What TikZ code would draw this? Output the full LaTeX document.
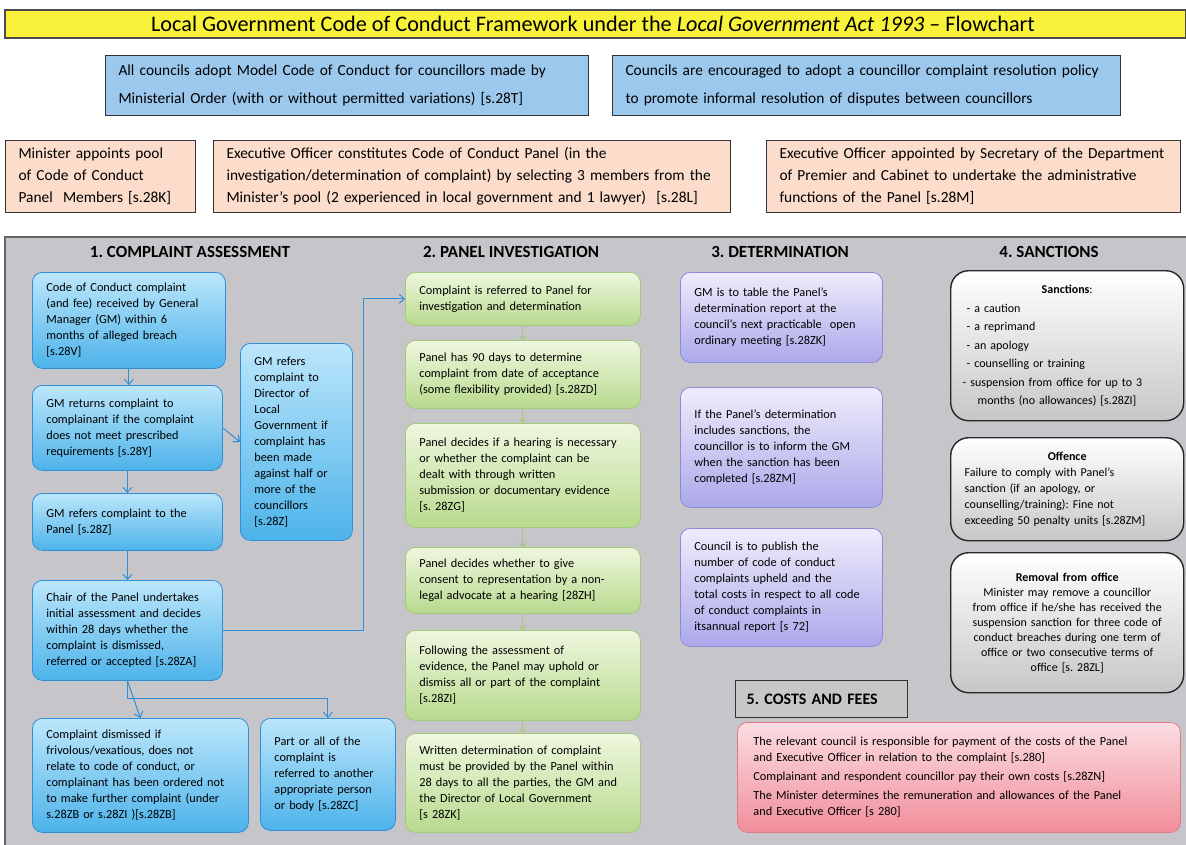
\documentclass[tikz,border=0pt]{standalone}
\usepackage{fontspec}
\setmainfont{Carlito}
\usetikzlibrary{arrows.meta}
\frenchspacing

\definecolor{bannerY}{HTML}{F8F23A}
\definecolor{topBlue}{HTML}{9CC8EE}
\definecolor{topPeach}{HTML}{FCDCCB}
\definecolor{panelGray}{HTML}{C6C6CA}
\definecolor{blueTop}{HTML}{BCE6FB}
\definecolor{blueBot}{HTML}{4DB3EA}
\definecolor{blueLine}{HTML}{2F8ED6}
\definecolor{greenTop}{HTML}{EEF7DE}
\definecolor{greenBot}{HTML}{B8DA8E}
\definecolor{greenLine}{HTML}{A3C97A}
\definecolor{purpTop}{HTML}{EEECFB}
\definecolor{purpBot}{HTML}{ACA8EB}
\definecolor{purpLine}{HTML}{8D89D6}
\definecolor{pinkTop}{HTML}{FCDDE2}
\definecolor{pinkBot}{HTML}{F08E9A}
\definecolor{pinkLine}{HTML}{E27A88}

\begin{document}
\begin{tikzpicture}[x=1pt,y=-1pt,
    topbox/.style={draw=black!80, line width=1pt, anchor=north west, align=left,
      inner xsep=13pt, inner ysep=0pt},
    colbox/.style={rounded corners=10pt, line width=0.8pt, anchor=north west, align=left,
      inner xsep=14pt, inner ysep=0pt, font=\fontsize{12.3}{16}\selectfont},
    assessbox/.style={colbox, draw=blueLine, top color=blueTop, bottom color=blueBot},
    panelbox/.style={colbox, draw=greenLine, top color=greenTop, bottom color=greenBot},
    detbox/.style={colbox, draw=purpLine, top color=purpTop, bottom color=purpBot},
    sanctbox/.style={colbox, rounded corners=18pt, draw=black!85, line width=1.4pt,
      top color=white, bottom color=black!22, font=\fontsize{12}{15}\selectfont},
    heading/.style={font=\fontsize{17}{20}\selectfont\bfseries},
    flow/.style={-{Straight Barb[length=5pt,width=9pt]}, blueLine, line width=1pt},
    gflow/.style={-{Straight Barb[length=3pt,width=6pt]}, greenLine, line width=1pt}]
  \useasboundingbox (0,0) rectangle (1186,845);

  % title banner
  \draw[fill=bannerY, draw=black!70, line width=1.2pt] (5,10) rectangle (1186,38);
  \node[font=\fontsize{22.2}{26}\selectfont] (title) at (593,24)
    {Local Government Code of Conduct Framework under the \textit{Local Government Act 1993} -- Flowchart};

  % framework boxes
  \node[topbox, fill=topBlue, minimum width=483pt, minimum height=60pt, text width=457pt,
    font=\fontsize{15.4}{28}\selectfont] (model) at (105,55)
    {All councils adopt Model Code of Conduct for councillors made by\\
     Ministerial Order (with or without permitted variations) [s.28T]};
  \node[topbox, fill=topBlue, minimum width=508pt, minimum height=60pt, text width=482pt,
    font=\fontsize{15.4}{28}\selectfont] (policy) at (612,55)
    {Councils are encouraged to adopt a councillor complaint resolution policy\\
     to promote informal resolution of disputes between councillors};

  \node[topbox, fill=topPeach, minimum width=190pt, minimum height=72pt, text width=164pt,
    font=\fontsize{15.4}{22}\selectfont] (pool) at (5,140)
    {Minister appoints pool\\ of Code of Conduct\\ Panel~ Members [s.28K]};
  \node[topbox, fill=topPeach, minimum width=517pt, minimum height=72pt, text width=491pt,
    font=\fontsize{15.4}{22}\selectfont] (constitute) at (213,140)
    {Executive Officer constitutes Code of Conduct Panel (in the\\
     investigation/determination of complaint) by selecting 3 members from the\\
     Minister’s pool (2 experienced in local government and 1 lawyer)~ [s.28L]};
  \node[topbox, fill=topPeach, minimum width=414pt, minimum height=72pt, text width=388pt,
    font=\fontsize{15.4}{22}\selectfont] (execofficer) at (766,140)
    {Executive Officer appointed by Secretary of the Department\\
     of Premier and Cabinet to undertake the administrative\\
     functions of the Panel [s.28M]};

  % grey panel behind the flowchart
  \fill[panelGray] (5,237) rectangle (1186,845);
  \draw[black!60, line width=1.2pt] (5,845) -- (5,237) -- (1186,237);

  \node[heading] (h1) at (190,252) {1. COMPLAINT ASSESSMENT};
  \node[heading] (h2) at (511,252) {2. PANEL INVESTIGATION};
  \node[heading] (h3) at (780,252) {3. DETERMINATION};
  \node[heading] (h4) at (1049,252) {4. SANCTIONS};

  % 1. complaint assessment
  \node[assessbox, minimum width=193pt, minimum height=96pt, text width=165pt] (received) at (32,272)
    {Code of Conduct complaint\\ (and fee) received by General\\ Manager (GM) within 6\\ months of alleged breach\\{} [s.28V]};
  \node[assessbox, minimum width=190pt, minimum height=85pt, text width=162pt] (returns) at (32,385)
    {GM returns complaint to\\ complainant if the complaint\\ does not meet prescribed\\ requirements [s.28Y]};
  \node[assessbox, minimum width=190pt, minimum height=57pt, text width=162pt] (refers) at (32,493)
    {GM refers complaint to the\\ Panel [s.28Z]};
  \node[assessbox, minimum width=190pt, minimum height=100pt, text width=162pt] (chair) at (32,580)
    {Chair of the Panel undertakes\\ initial assessment and decides\\ within 28 days whether the\\ complaint is dismissed,\\ referred or accepted [s.28ZA]};
  \node[assessbox, minimum width=216pt, minimum height=114pt, text width=188pt] (dismissed) at (32,718)
    {Complaint dismissed if\\ frivolous/vexatious, does not\\ relate to code of conduct, or\\ complainant has been ordered not\\ to make further complaint (under\\ s.28ZB or s.28ZI )[s.28ZB]};
  \node[assessbox, minimum width=135pt, minimum height=112pt, text width=107pt] (referred) at (260,718)
    {Part or all of the\\ complaint is\\ referred to another\\ appropriate person\\ or body [s.28ZC]};
  \node[assessbox, minimum width=112pt, minimum height=197pt, text width=84pt] (director) at (240,343)
    {GM refers\\ complaint to\\ Director of\\ Local\\ Government if\\ complaint has\\ been made\\ against half or\\ more of the\\ councillors\\{} [s.28Z]};

  \draw[flow] (received.south) -- (received.south |- returns.north);
  \draw[flow] (returns.east) -- (director.west);
  \draw[flow] (returns.south) -- (returns.south |- refers.north);
  \draw[flow] (refers.south) -- (refers.south |- chair.north);
  \draw[flow] (chair.south) -- (dismissed.north);
  \draw[flow] (chair.south) -- ++(0,18) -| (referred.north);

  % 2. panel investigation
  \node[panelbox, minimum width=235pt, minimum height=53pt, text width=207pt] (investig) at (405,272)
    {Complaint is referred to Panel for\\ investigation and determination};
  \node[panelbox, minimum width=235pt, minimum height=68pt, text width=207pt] (ninety) at (405,340)
    {Panel has 90 days to determine\\ complaint from date of acceptance\\ (some flexibility provided) [s.28ZD]};
  \node[panelbox, minimum width=235pt, minimum height=104pt, text width=207pt] (hearing) at (405,423)
    {Panel decides if a hearing is necessary\\ or whether the complaint can be\\ dealt with through written\\ submission or documentary evidence\\{} [s. 28ZG]};
  \node[panelbox, minimum width=235pt, minimum height=66pt, text width=207pt] (advocate) at (405,547)
    {Panel decides whether to give\\ consent to representation by a non-\\ legal advocate at a hearing [28ZH]};
  \node[panelbox, minimum width=235pt, minimum height=90pt, text width=207pt] (uphold) at (405,630)
    {Following the assessment of\\ evidence, the Panel may uphold or\\ dismiss all or part of the complaint\\{} [s.28ZI]};
  \node[panelbox, minimum width=235pt, minimum height=99pt, text width=207pt] (written) at (405,733)
    {Written determination of complaint\\ must be provided by the Panel within\\ 28 days to all the parties, the GM and\\ the Director of Local Government\\{} [s 28ZK]};

  \draw[flow] (chair.east) -- ++(141,0) |- (investig.west);
  \foreach \a/\b in {investig/ninety, ninety/hearing, hearing/advocate, advocate/uphold, uphold/written}
    \draw[gflow] (\a.south) -- (\b.north);

  % 3. determination
  \node[detbox, minimum width=202pt, minimum height=90pt, text width=174pt] (table) at (680,272)
    {GM is to table the Panel’s\\ determination report at the\\ council’s next practicable~ open\\ ordinary meeting [s.28ZK]};
  \node[detbox, minimum width=202pt, minimum height=120pt, text width=174pt] (inform) at (680,387)
    {If the Panel’s determination\\ includes sanctions, the\\ councillor is to inform the GM\\ when the sanction has been\\ completed [s.28ZM]};
  \node[detbox, minimum width=202pt, minimum height=118pt, text width=174pt] (publish) at (680,528)
    {Council is to publish the\\ number of code of conduct\\ complaints upheld and the\\ total costs in respect to all code\\ of conduct complaints in\\ itsannual report [s 72]};

  % 4. sanctions
  \node[sanctbox, minimum width=233pt, minimum height=150pt, text width=209pt, inner xsep=12pt,
    font=\fontsize{12}{18.5}\selectfont] (sanctions) at (950,270)
    {\makebox[\hsize]{\textbf{Sanctions}:}\\
     \hspace*{4pt}- a caution\\
     \hspace*{4pt}- a reprimand\\
     \hspace*{4pt}- an apology\\
     \hspace*{4pt}- counselling or training\\
     - suspension from office for up to 3\\
     \hspace*{15pt}months (no allowances) [s.28ZI]};
  \node[sanctbox, minimum width=233pt, minimum height=103pt, text width=205pt, inner xsep=14pt,
    font=\fontsize{12}{16}\selectfont] (offence) at (950,437)
    {\makebox[\hsize]{\textbf{Offence}}\\
     Failure to comply with Panel’s\\ sanction (if an apology, or\\ counselling/training): Fine not\\ exceeding 50 penalty units [s.28ZM]};
  \node[sanctbox, minimum width=233pt, minimum height=140pt, text width=215pt, inner xsep=9pt,
    align=center, font=\fontsize{12}{15}\selectfont] (removal) at (950,552)
    {\textbf{Removal from office}\\ Minister may remove a councillor\\ from office if he/she has received the\\ suspension sanction for three code of\\ conduct breaches during one term of\\ office or two consecutive terms of\\ office [s. 28ZL]};

  % 5. costs and fees
  \node[draw=black!80, line width=1.4pt, fill=black!22, anchor=north west, minimum width=172pt,
    minimum height=37pt, text width=150pt, inner xsep=11pt, align=left,
    font=\fontsize{16}{19}\selectfont\bfseries] (costhead) at (735,680) {5. COSTS AND FEES};
  \node[colbox, draw=pinkLine, top color=pinkTop, bottom color=pinkBot, minimum width=443pt,
    minimum height=110pt, text width=411pt, inner xsep=16pt] (costs) at (737,722)
    {The relevant council is responsible for payment of the costs of the Panel\\
     and Executive Officer in relation to the complaint [s.280]\\[3pt]
     Complainant and respondent councillor pay their own costs [s.28ZN]\\[3pt]
     The Minister determines the remuneration and allowances of the Panel\\
     and Executive Officer [s 280]};
\end{tikzpicture}
\end{document}
